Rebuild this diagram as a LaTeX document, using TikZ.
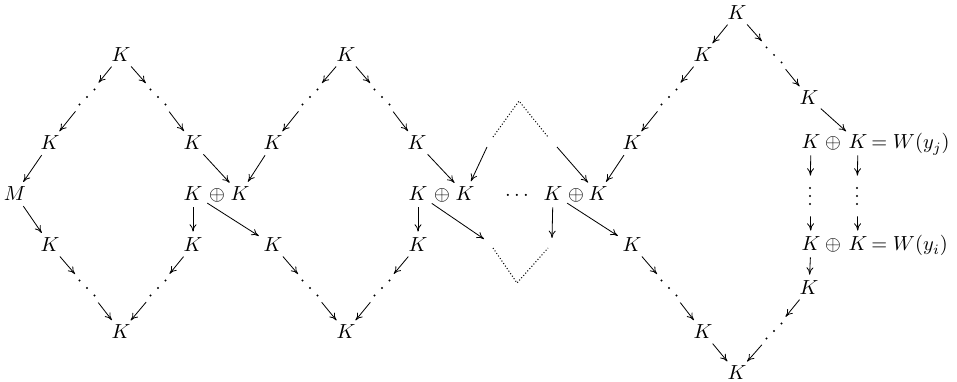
\documentclass[tikz,border=0pt]{standalone}
\usetikzlibrary{arrows.meta,shapes.geometric}
\begin{document}
\begin{tikzpicture}[x=0.49pt,y=-0.49pt,
  obj/.style={ellipse,inner sep=0pt,minimum width=18.6pt,minimum height=12.7pt},
  op/.style={inner sep=0pt,anchor=base},
  dd/.style={circle,inner sep=0pt,minimum size=17.6pt},
  vd/.style={rectangle,inner sep=0pt,minimum width=3pt,minimum height=19.6pt},
  ar/.style={-{Computer Modern Rightarrow[length=3.6pt,width=3.4pt]},line width=0.4pt},
  dl/.style={densely dotted,line width=0.5pt},
  dotdown/.pic={\fill (-7.5,-7.5) circle[radius=0.5pt]; \fill (0,0) circle[radius=0.5pt]; \fill (7.5,7.5) circle[radius=0.5pt];},
  dotup/.pic={\fill (-7.5,7.5) circle[radius=0.5pt]; \fill (0,0) circle[radius=0.5pt]; \fill (7.5,-7.5) circle[radius=0.5pt];},
  dotvert/.pic={\fill (0,-8) circle[radius=0.5pt]; \fill (0,0) circle[radius=0.5pt]; \fill (0,8) circle[radius=0.5pt];}
]
\useasboundingbox (0,0) rectangle (957,382);

% ---------- first diamond ----------
\node[obj] (k1t) at (121,55) {$K$};
\node[dd] (d1l) at (87,97) {};
\node[dd] (d1r) at (158,97) {};
\node[obj] (k1l) at (50,143) {$K$};
\node[obj] (k1r) at (193,143) {$K$};
\node[obj] (M) at (15,194) {$M$};
\node[obj] (s1a) at (193,194) {$K$};
\node[op] (s1o) at (217,201) {$\oplus$};
\node[obj] (s1b) at (240,194) {$K$};
\node[obj] (k1ll) at (50,245) {$K$};
\node[obj] (k1lr) at (193,245) {$K$};
\node[dd] (d1bl) at (87,288) {};
\node[dd] (d1br) at (158,288) {};
\node[obj] (k1b) at (121,332) {$K$};

% ---------- second diamond ----------
\node[obj] (k2t) at (346,55) {$K$};
\node[dd] (d2l) at (310,97) {};
\node[dd] (d2r) at (382,97) {};
\node[obj] (k2l) at (273,143) {$K$};
\node[obj] (k2r) at (417,143) {$K$};
\node[obj] (s2a) at (418,194) {$K$};
\node[op] (s2o) at (442,201) {$\oplus$};
\node[obj] (s2b) at (465,194) {$K$};
\node[obj] (k2ll) at (273,245) {$K$};
\node[obj] (k2lr) at (418,245) {$K$};
\node[dd] (d2bl) at (310,288) {};
\node[dd] (d2br) at (382,288) {};
\node[obj] (k2b) at (346,332) {$K$};

% ---------- middle ----------
\node[op] (cd) at (517,201) {$\cdots$};
\node[obj] (s3a) at (553,194) {$K$};
\node[op] (s3o) at (576,201) {$\oplus$};
\node[obj] (s3b) at (598,194) {$K$};
\coordinate (m1) at (487,147);
\coordinate (m2) at (557,147);
\coordinate (e1) at (484,239);
\coordinate (e2) at (552,238);
\coordinate (ul) at (493,137);
\coordinate (ut) at (519,101);
\coordinate (ur) at (548,137);
\coordinate (ll) at (493,248);
\coordinate (lb) at (517,283);
\coordinate (lr) at (548,248);

% ---------- right diamond ----------
\node[obj] (r1) at (737,13) {$K$};
\node[obj] (rk1) at (703,55) {$K$};
\node[dd] (rdR) at (774,55) {};
\node[dd] (rdL) at (669,97) {};
\node[obj] (rk2) at (809,98) {$K$};
\node[obj] (k3) at (632,143) {$K$};
\node[obj] (w1a) at (811,142) {$K$};
\node[op] (w1o) at (833,149) {$\oplus$};
\node[obj] (w1b) at (858,142) {$K$};
\node[op,anchor=base west] (eqj) at (871,149) {$=W(y_j)$};
\node[vd] (rdv1) at (810,196) {};
\node[vd] (rdv2) at (857,196) {};
\node[obj] (w2a) at (811,244) {$K$};
\node[op] (w2o) at (833,251) {$\oplus$};
\node[obj] (w2b) at (858,244) {$K$};
\node[op,anchor=base west] (eqi) at (871,251) {$=W(y_i)$};
\node[obj] (k3l) at (632,245) {$K$};
\node[obj] (rk4) at (809,288) {$K$};
\node[dd] (rdBL) at (669,288) {};
\node[dd] (rdBR) at (774,331) {};
\node[obj] (rk5) at (703,332) {$K$};
\node[obj] (r9) at (737,373) {$K$};

% ---------- dots ----------
\pic at (d1l) {dotup};
\pic at (d1r) {dotdown};
\pic at (d1bl) {dotdown};
\pic at (d1br) {dotup};
\pic at (d2l) {dotup};
\pic at (d2r) {dotdown};
\pic at (d2bl) {dotdown};
\pic at (d2br) {dotup};
\pic at (rdR) {dotdown};
\pic at (rdL) {dotup};
\pic at (rdBL) {dotdown};
\pic at (rdBR) {dotup};
\pic at (rdv1) {dotvert};
\pic at (rdv2) {dotvert};

\draw[dl] (ul) -- (ut) -- (ur);
\draw[dl] (ll) -- (lb) -- (lr);

% ---------- arrows ----------
\draw[ar] (k1t) -- (d1l);
\draw[ar] (d1l) -- (k1l);
\draw[ar] (k1l) -- (M);
\draw[ar] (k1t) -- (d1r);
\draw[ar] (d1r) -- (k1r);
\draw[ar] (k1r) -- (s1b);
\draw[ar] (M) -- (k1ll);
\draw[ar] (k1ll) -- (d1bl);
\draw[ar] (d1bl) -- (k1b);
\draw[ar] (s1a) -- (k1lr);
\draw[ar] (k1lr) -- (d1br);
\draw[ar] (d1br) -- (k1b);
\draw[ar] (s1a) -- (k2ll);
\draw[ar] (k2l) -- (s1b);

\draw[ar] (k2t) -- (d2l);
\draw[ar] (d2l) -- (k2l);
\draw[ar] (k2t) -- (d2r);
\draw[ar] (d2r) -- (k2r);
\draw[ar] (k2r) -- (s2b);
\draw[ar] (k2ll) -- (d2bl);
\draw[ar] (d2bl) -- (k2b);
\draw[ar] (s2a) -- (k2lr);
\draw[ar] (k2lr) -- (d2br);
\draw[ar] (d2br) -- (k2b);
\draw[ar] (s2a) -- (e1);
\draw[ar] (m1) -- (s2b);

\draw[ar] (s3a) -- (e2);
\draw[ar] (m2) -- (s3b);
\draw[ar] (k3) -- (s3b);
\draw[ar] (s3a) -- (k3l);

\draw[ar] (r1) -- (rk1);
\draw[ar] (r1) -- (rdR);
\draw[ar] (rdR) -- (rk2);
\draw[ar] (rk1) -- (rdL);
\draw[ar] (rdL) -- (k3);
\draw[ar] (rk2) -- (w1b);
\draw[ar] (w1a) -- (rdv1);
\draw[ar] (w1b) -- (rdv2);
\draw[ar] (rdv1) -- (w2a);
\draw[ar] (rdv2) -- (w2b);
\draw[ar] (w2a) -- (rk4);
\draw[ar] (rk4) -- (rdBR);
\draw[ar] (rdBR) -- (r9);
\draw[ar] (k3l) -- (rdBL);
\draw[ar] (rdBL) -- (rk5);
\draw[ar] (rk5) -- (r9);
\end{tikzpicture}
\end{document}
